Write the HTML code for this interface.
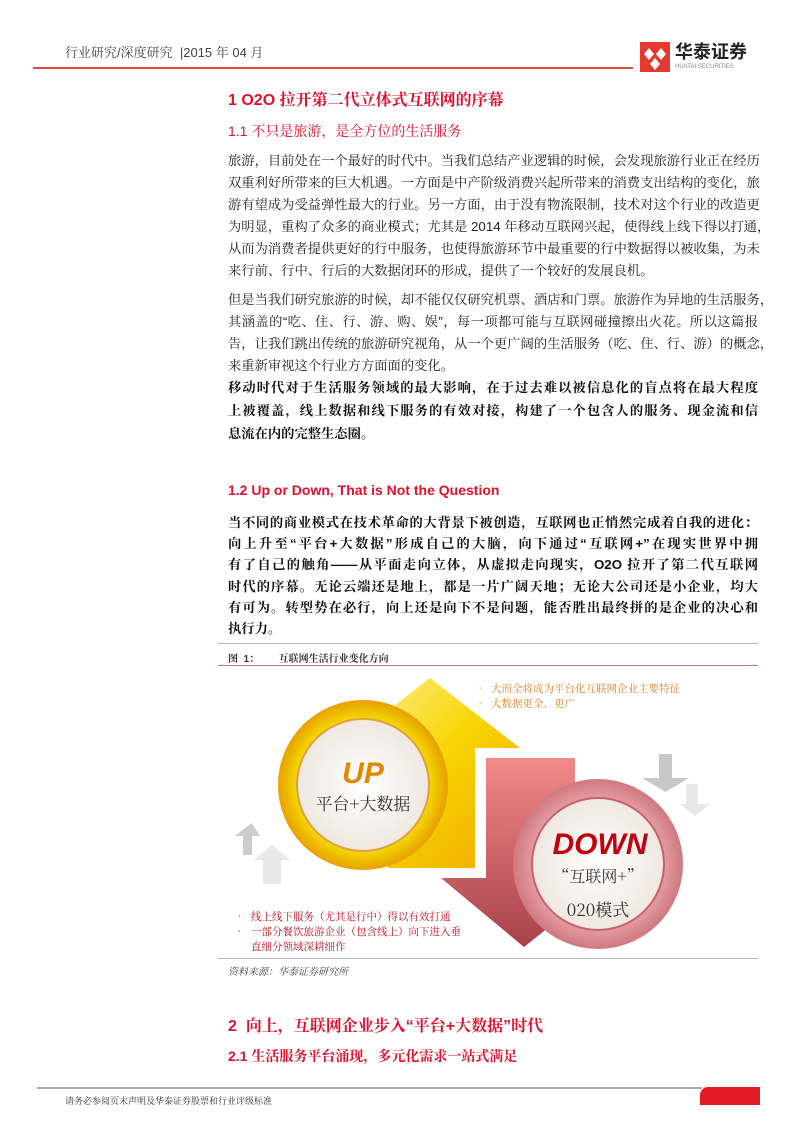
<!DOCTYPE html>
<html><head><meta charset="utf-8"><style>
body{margin:0;width:793px;height:1123px;position:relative;background:#fff;font-family:"Liberation Sans","Noto Serif CJK SC","Noto Sans CJK SC",sans-serif;overflow:hidden}
.a{position:absolute;white-space:nowrap}
.l{position:absolute;left:228px;width:530px;font-size:13.3px;color:#222;text-align:justify;text-align-last:justify;white-space:nowrap;font-family:"Liberation Sans","Noto Serif CJK SC",serif}
.e{text-align-last:left}
.b{font-weight:bold;color:#111}
</style></head><body>
<div class="a" style="left:65px;top:42px;font-size:13px;color:#444">行业研究/深度研究 &nbsp;|2015 年 04 月</div>
<div class="a" style="left:33px;top:67px;width:600px;height:2px;background:#e5483c"></div>
<svg class="a" style="left:640px;top:42px" width="30" height="30"><rect width="30" height="30" fill="#e23a2e"/><path d="M4 12l5-6 5 6-5 6zM16 12l5-6 5 6-5 6zM10 22l5-6 5 6-5 6z" fill="#fff"/></svg>
<div class="a" style="left:675px;top:40px;font-size:18px;font-weight:bold;color:#222;font-family:'Noto Sans CJK SC',sans-serif;line-height:22px">华泰证券</div>
<div class="a" style="left:675px;top:64px;font-size:6px;color:#888">HUATAI SECURITIES</div>

<div class="a" style="left:228px;top:87px;font-size:16px;font-weight:bold;color:#e0102a">1 O2O 拉开第二代立体式互联网的序幕</div>
<div class="a" style="left:228px;top:121px;font-size:14px;color:#e0102a">1.1 不只是旅游，是全方位的生活服务</div>

<div class="l" style="top:150px">旅游，目前处在一个最好的时代中。当我们总结产业逻辑的时候，会发现旅游行业正在经历</div>
<div class="l" style="top:172px">双重利好所带来的巨大机遇。一方面是中产阶级消费兴起所带来的消费支出结构的变化，旅</div>
<div class="l" style="top:194px">游有望成为受益弹性最大的行业。另一方面，由于没有物流限制，技术对这个行业的改造更</div>
<div class="l" style="top:216px">为明显，重构了众多的商业模式；尤其是 2014 年移动互联网兴起，使得线上线下得以打通，</div>
<div class="l" style="top:238px">从而为消费者提供更好的行中服务，也使得旅游环节中最重要的行中数据得以被收集，为未</div>
<div class="l e" style="top:260px">来行前、行中、行后的大数据闭环的形成，提供了一个较好的发展良机。</div>
<div class="l" style="top:289px">但是当我们研究旅游的时候，却不能仅仅研究机票、酒店和门票。旅游作为异地的生活服务，</div>
<div class="l" style="top:311px">其涵盖的“吃、住、行、游、购、娱”，每一项都可能与互联网碰撞擦出火花。所以这篇报</div>
<div class="l" style="top:333px">告，让我们跳出传统的旅游研究视角，从一个更广阔的生活服务（吃、住、行、游）的概念，</div>
<div class="l e" style="top:355px">来重新审视这个行业方方面面的变化。</div>
<div class="l b" style="top:377px">移动时代对于生活服务领域的最大影响，在于过去难以被信息化的盲点将在最大程度</div>
<div class="l b" style="top:400px">上被覆盖，线上数据和线下服务的有效对接，构建了一个包含人的服务、现金流和信</div>
<div class="l b e" style="top:423px">息流在内的完整生态圈。</div>

<div class="a" style="left:228px;top:482px;font-size:14px;color:#e0102a;font-weight:bold">1.2 Up or Down, That is Not the Question</div>
<div class="l b" style="top:512px">当不同的商业模式在技术革命的大背景下被创造，互联网也正悄然完成着自我的进化：</div>
<div class="l b" style="top:533px">向上升至“平台+大数据”形成自己的大脑，向下通过“互联网+”在现实世界中拥</div>
<div class="l b" style="top:554px">有了自己的触角——从平面走向立体，从虚拟走向现实，O2O 拉开了第二代互联网</div>
<div class="l b" style="top:576px">时代的序幕。无论云端还是地上，都是一片广阔天地；无论大公司还是小企业，均大</div>
<div class="l b" style="top:597px">有可为。转型势在必行，向上还是向下不是问题，能否胜出最终拼的是企业的决心和</div>
<div class="l b e" style="top:618px">执行力。</div>

<div class="a" style="left:218px;top:643px;width:540px;height:1px;background:#bbb"></div>
<div class="a" style="left:228px;top:650px;font-size:10px;font-weight:bold;color:#333">图 &nbsp;1： &nbsp;&nbsp;&nbsp;&nbsp;&nbsp;&nbsp;互联网生活行业变化方向</div>
<div class="a" style="left:218px;top:665px;width:540px;height:1px;background:#e07070"></div>

<svg class="a" style="left:218px;top:666px" width="540" height="290">
<defs>
<linearGradient id="gy" x1="0" y1="0" x2="1" y2="1"><stop offset="0" stop-color="#fff3a0"/><stop offset="0.5" stop-color="#f8d400"/><stop offset="1" stop-color="#f0a800"/></linearGradient>
<linearGradient id="gr" x1="0" y1="0" x2="0" y2="1"><stop offset="0" stop-color="#f28a8a"/><stop offset="1" stop-color="#a8414a"/></linearGradient>
<radialGradient id="cy"><stop offset="0.75" stop-color="#f5e000"/><stop offset="1" stop-color="#e8a000"/></radialGradient>
<radialGradient id="ci"><stop offset="0" stop-color="#fff"/><stop offset="1" stop-color="#eee8e0"/></radialGradient>
<radialGradient id="cr"><stop offset="0.7" stop-color="#e8a8ac"/><stop offset="1" stop-color="#d07880"/></radialGradient>
</defs>
<polygon points="212,12 302,82 257,82 257,202 170,202 170,82 122,82" fill="url(#gy)"/>
<polygon points="268,92 357,92 357,212 393,212 306,281 223,212 268,212" fill="url(#gr)"/>
<circle cx="145" cy="119" r="85" fill="url(#cy)"/>
<circle cx="145" cy="119" r="66" fill="url(#ci)" stroke="#e0a040" stroke-width="2"/>
<circle cx="380" cy="198" r="85" fill="url(#cr)"/>
<circle cx="380" cy="198" r="66" fill="url(#ci)" stroke="#c86070" stroke-width="2"/>
<text x="145" y="117" text-anchor="middle" font-size="30" font-weight="bold" font-style="italic" fill="#e08800" font-family="Liberation Sans">UP</text>
<text x="145" y="144" text-anchor="middle" font-size="17" fill="#333" font-family="Noto Serif CJK SC,serif">平台+大数据</text>
<text x="382" y="188" text-anchor="middle" font-size="30" font-weight="bold" font-style="italic" fill="#c00010" font-family="Liberation Sans">DOWN</text>
<text x="380" y="216" text-anchor="middle" font-size="16" fill="#333" font-family="Noto Serif CJK SC,serif">“互联网+”</text>
<text x="380" y="250" text-anchor="middle" font-size="17" fill="#333" font-family="Noto Serif CJK SC,serif">020模式</text>
<polygon points="25,170 25,189 34,189 34,170 42,170 33.5,157 17,170" fill="#ccc"/>
<polygon points="45,194 45,218 63,218 63,194 72,194 54,179 36,194" fill="#e8e8e8"/>
<polygon points="441,88 454,88 454,112 471,112 447.5,126 424,112 441,112" fill="#c8c8c8"/>
<polygon points="468,118 480,118 480,138 492,138 477,150 462,138 468,138" fill="#e8e8e8"/>
<text font-size="10.5" fill="#e08020" font-family="Noto Serif CJK SC,serif"><tspan x="257" y="26">•</tspan><tspan x="273" y="26">大而全将成为平台化互联网企业主要特征</tspan><tspan x="257" y="41">•</tspan><tspan x="273" y="41">大数据更全、更广</tspan></text>
<text font-size="10.5" fill="#c01020" font-family="Noto Serif CJK SC,serif"><tspan x="16" y="254">•</tspan><tspan x="33" y="254">线上线下服务（尤其是行中）得以有效打通</tspan><tspan x="16" y="269">•</tspan><tspan x="33" y="269">一部分餐饮旅游企业（包含线上）向下进入垂</tspan><tspan x="33" y="284">直细分领域深耕细作</tspan></text>
</svg>
<div class="a" style="left:218px;top:958px;width:540px;height:1px;background:#bbb"></div>
<div class="a" style="left:228px;top:963px;font-size:10px;font-style:italic;color:#444">资料来源：华泰证券研究所</div>

<div class="a" style="left:228px;top:1013px;font-size:16px;font-weight:bold;color:#e0102a">2 &nbsp;向上，互联网企业步入“平台+大数据”时代</div>
<div class="a" style="left:228px;top:1046px;font-size:14px;font-weight:bold;color:#e0102a">2.1 生活服务平台涌现，多元化需求一站式满足</div>

<div class="a" style="left:37px;top:1087px;width:665px;height:2px;background:#aaa"></div>
<div class="a" style="left:700px;top:1087px;width:60px;height:18px;background:#e31b23;border-radius:8px 0 0 0"></div>
<div class="a" style="left:65px;top:1094px;font-size:9px;color:#333">请务必参阅页末声明及华泰证券股票和行业评级标准</div>
</body></html>
